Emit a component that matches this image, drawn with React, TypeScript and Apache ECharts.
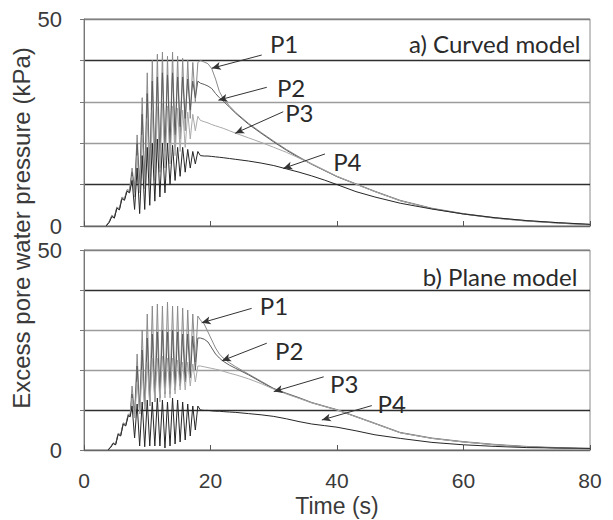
import React, { useEffect, useRef } from "react";
import * as echarts from "echarts";

// ---------- time bases ----------
const riseTimeCurved = [3.5, 4.0, 4.4, 4.8, 5.2, 5.6, 6.0, 6.4, 6.8, 7.2];
const riseTimePlane = [3.8, 4.2, 4.6, 5.0, 5.4, 5.8, 6.2, 6.6, 7.0, 7.3];
const oscTime = [7.6, 8.0, 8.4, 8.8, 9.2, 9.6, 10.0, 10.4, 10.8, 11.2, 11.6, 12.0, 12.4, 12.8, 13.2, 13.6, 14.0, 14.4, 14.8, 15.2, 15.6, 16.0, 16.4, 16.8, 17.2, 17.6, 18.0];
const decayTime = [18.4, 19, 19.6, 20.2, 20.8, 21.4, 22, 23, 24, 26, 28, 30, 32, 34, 36, 38, 40, 43, 46, 50, 55, 60, 65, 70, 75, 80];

// ---------- a) Curved model ----------
const curvedP1Rise = [0, 1.2, 2.6, 2.2, 4.6, 4.2, 7.0, 6.6, 8.8, 8.6];
const curvedP2Rise = [0, 1.0, 2.4, 2.0, 4.4, 4.0, 6.8, 6.4, 8.6, 8.2];
const curvedP3Rise = [0, 1.1, 2.5, 2.1, 4.5, 4.1, 6.9, 6.5, 8.7, 8.3];
const curvedP4Rise = [0, 0.9, 2.3, 1.9, 4.3, 3.9, 6.6, 6.2, 8.4, 8.0];

const curvedP1Osc = [14, 9, 22, 9, 31, 10, 37, 11, 40, 13, 41.5, 14, 42, 16, 41, 18, 42, 19, 41, 21, 40.5, 23, 40, 26, 39.5, 30, 39.5];
const curvedP2Osc = [13, 8, 20, 9, 27, 10, 32, 12, 35, 14, 36, 16, 37, 18, 36.5, 20, 37, 22, 36, 24, 36, 26, 35.5, 28, 35, 31, 35];
const curvedP3Osc = [12, 7, 17, 8, 22, 9, 26, 10, 28, 11, 29, 13, 30, 14, 29, 15, 29, 17, 28.5, 18, 28, 19, 27.5, 21, 27, 23, 26.5];
const curvedP4Osc = [11, 4, 14, 3, 17, 4, 19, 5, 20, 6, 21, 7, 20, 8, 20, 10, 19.5, 11, 19, 12, 19, 13, 18.5, 14, 18, 15, 18];

const curvedP1Decay = [40, 39.6, 39.2, 38, 35.5, 32.5, 30.8, 29, 27.4, 24.8, 22.6, 20.5, 18.5, 16.7, 15, 13.5, 12, 10.2, 8.4, 6.2, 4.3, 3, 2, 1.3, 0.8, 0.4];
const curvedP2Decay = [34.5, 34.2, 33.8, 33.2, 32, 31, 30.2, 28.7, 27.2, 24.6, 22.4, 20.3, 18.3, 16.5, 14.9, 13.4, 11.9, 10.1, 8.3, 6.1, 4.2, 2.9, 1.9, 1.2, 0.7, 0.3];
const curvedP3Decay = [25.5, 25.2, 24.9, 24.5, 24.2, 23.9, 23.6, 23, 22.4, 21.3, 20.2, 19, 17.8, 16.4, 15, 13.5, 12, 10.1, 8.3, 6.1, 4.2, 2.9, 1.9, 1.2, 0.7, 0.3];
const curvedP4Decay = [17, 16.9, 16.9, 16.8, 16.7, 16.6, 16.5, 16.3, 16.1, 15.7, 15.2, 14.6, 13.8, 13, 12.1, 11.1, 10, 8.3, 7, 5.5, 4.1, 2.9, 2, 1.3, 0.8, 0.4];

// ---------- b) Plane model ----------
const planeP1Rise = [0, 0.8, 1.8, 1.5, 4.2, 3.8, 6.8, 6.4, 9.0, 8.8];
const planeP2Rise = [0, 0.7, 1.7, 1.4, 4.0, 3.7, 6.6, 6.2, 8.8, 8.5];
const planeP3Rise = [0, 0.8, 1.7, 1.5, 4.1, 3.6, 6.7, 6.3, 8.9, 8.6];
const planeP4Rise = [0, 0.6, 1.6, 1.3, 3.9, 3.5, 6.5, 6.0, 8.6, 8.3];

const planeP1Osc = [16, 9, 24, 10, 30, 11, 34, 12, 36, 13, 36.5, 13, 36, 14, 37, 15, 36, 15, 36, 16, 35.5, 17, 35, 19, 34, 22, 33.5];
const planeP2Osc = [14, 8, 21, 9, 25, 10, 28, 11, 29, 12, 29.5, 13, 30, 14, 29.5, 14, 30, 15, 29.5, 16, 29, 17, 29, 18, 28.5, 20, 28];
const planeP3Osc = [13, 8, 17, 9, 20, 10, 22, 11, 23, 12, 23, 12, 23.5, 13, 23, 13, 23, 14, 22.5, 15, 22, 15, 22, 16, 21.5, 17, 21];
const planeP4Osc = [11, 3, 11.5, 1, 12, 0.8, 12.5, 1, 12, 1, 13, 1, 12.5, 0.5, 12, 1, 13, 1.5, 12.5, 2, 12, 2.5, 11.5, 3.5, 11, 5, 11];

const planeP1Decay = [32.5, 31.5, 29.5, 27.5, 25.5, 24, 23, 21.8, 20.8, 19, 17.2, 15.4, 14.2, 13.1, 11.9, 11, 10.1, 8.4, 6.7, 4.4, 3, 2.1, 1.4, 0.9, 0.6, 0.4];
const planeP2Decay = [28, 27.7, 27, 25.5, 24, 23, 22.2, 21.2, 20.4, 18.8, 17, 15.3, 14.1, 13, 11.8, 10.9, 10, 8.3, 6.6, 4.3, 2.9, 2, 1.3, 0.8, 0.5, 0.3];
const planeP3Decay = [21, 20.8, 20.6, 20.4, 20.2, 20, 19.7, 19.2, 18.8, 17.8, 16.6, 15.2, 14, 12.9, 11.8, 10.9, 10, 8.3, 6.6, 4.3, 2.9, 2, 1.3, 0.8, 0.5, 0.3];
const planeP4Decay = [10, 9.9, 9.9, 9.8, 9.7, 9.7, 9.6, 9.5, 9.4, 9.1, 8.8, 8.4, 7.8, 7.1, 6.5, 6.1, 5.7, 4.8, 3.8, 2.9, 1.9, 1.3, 0.9, 0.6, 0.5, 0.4];

const seriesNames = ["P1", "P2", "P3", "P4"];
const yTickLabels = [0, 50];
const panelTitles = ["a) Curved model", "b) Plane model"];

// ---------- styling (not data) ----------
const AXIS_FONT = "'Liberation Sans', Arial, sans-serif";
const ANNOT_FONT = "Lato, 'Open Sans', sans-serif";
const seriesColors = ["#8a8a8a", "#5c5c5c", "#a9a9a9", "#262626"];
const gridLineColors = ["#666", "#2e2e2e", "#9c9c9c", "#9c9c9c", "#2e2e2e", "#808080"];

// arrow start/end and label anchors in data coords [t, kPa]
const curvedArrows = [
  [[28.1, 41.3], [20.2, 38.1]],
  [[28.9, 33.5], [21.25, 30.4]],
  [[31.5, 27.6], [23.9, 22.4]],
  [[38.1, 17.4], [31.5, 13.9]],
];
const planeArrows = [
  [[26.5, 35.4], [18.6, 31.8]],
  [[28.9, 26.7], [21.8, 22.3]],
  [[37.9, 18.3], [30.0, 14.6]],
  [[45.5, 11.1], [37.6, 7.5]],
];
const curvedLabelPos = [[29.4, 44.2], [30.5, 33.5], [31.8, 27.3], [39.4, 15.5]];
const planeLabelPos = [[27.8, 36.2], [30.2, 25.0], [38.9, 16.7], [46.4, 11.7]];
const titlePos = [[78.5, 44.2], [78.0, 43.3]];

function join(riseT: number[], riseV: number[], osc: number[], dec: number[]) {
  const out: number[][] = [];
  riseT.forEach((t, i) => out.push([t, riseV[i]]));
  oscTime.forEach((t, i) => out.push([t, osc[i]]));
  decayTime.forEach((t, i) => out.push([t, dec[i]]));
  return out;
}

export default function App() {
  const ref = useRef<HTMLDivElement>(null);
  useEffect(() => {
    if (!ref.current) return;
    const chart = echarts.init(ref.current, undefined, { renderer: "svg" });

    const curvedData = [
      join(riseTimeCurved, curvedP1Rise, curvedP1Osc, curvedP1Decay),
      join(riseTimeCurved, curvedP2Rise, curvedP2Osc, curvedP2Decay),
      join(riseTimeCurved, curvedP3Rise, curvedP3Osc, curvedP3Decay),
      join(riseTimeCurved, curvedP4Rise, curvedP4Osc, curvedP4Decay),
    ];
    const planeData = [
      join(riseTimePlane, planeP1Rise, planeP1Osc, planeP1Decay),
      join(riseTimePlane, planeP2Rise, planeP2Osc, planeP2Decay),
      join(riseTimePlane, planeP3Rise, planeP3Osc, planeP3Decay),
      join(riseTimePlane, planeP4Rise, planeP4Osc, planeP4Decay),
    ];

    const mkArrows = (arr: number[][][]) => ({
      silent: true,
      symbol: ["none", "arrow"],
      symbolSize: [6, 9],
      label: { show: false },
      lineStyle: { color: "#333", width: 1, type: "solid" },
      emphasis: { disabled: true },
      data: arr.map((a) => [{ coord: a[0] }, { coord: a[1] }]),
    });

    const series: any[] = [];
    [curvedData, planeData].forEach((panel, gi) => {
      panel.forEach((d, si) => {
        series.push({
          type: "line",
          name: `${panelTitles[gi]} ${seriesNames[si]}`,
          xAxisIndex: gi,
          yAxisIndex: gi,
          data: d,
          showSymbol: false,
          symbol: "none",
          lineStyle: { color: seriesColors[si], width: 1 },
          z: 2 + si,
          markLine: si === 3 ? mkArrows(gi === 0 ? curvedArrows : planeArrows) : undefined,
        });
      });
    });

    const option: any = {
      animation: false,
      backgroundColor: "#fff",
      grid: [
        { left: 84, width: 506, top: 19, height: 207, show: true, borderColor: "#8a8a8a", borderWidth: 1 },
        { left: 84, width: 506, top: 250, height: 200, show: true, borderColor: "#8a8a8a", borderWidth: 1 },
      ],
      xAxis: [0, 1].map((i) => ({
        type: "value",
        gridIndex: i,
        min: 0,
        max: 80,
        interval: 20,
        axisLine: { show: true, onZero: false, lineStyle: { color: "#666", width: 1.2 } },
        axisTick: { show: true, inside: true, length: 5, lineStyle: { color: "#555" } },
        axisLabel: { show: i === 1, fontSize: 21, fontFamily: AXIS_FONT, color: "#3a3a3a", margin: 20 },
        splitLine: { show: false },
      })),
      yAxis: [0, 1].map((i) => ({
        type: "value",
        gridIndex: i,
        min: 0,
        max: 50,
        interval: 10,
        axisLine: { show: true, lineStyle: { color: "#777" } },
        axisTick: { show: true, inside: false, length: 4, lineStyle: { color: "#777" } },
        axisLabel: {
          fontSize: 22,
          fontFamily: AXIS_FONT,
          color: "#3a3a3a",
          margin: 22,
          formatter: (v: number) => (yTickLabels.includes(v) ? String(v) : ""),
        },
        splitLine: { show: true, lineStyle: { color: gridLineColors, width: 1.3 } },
      })),
      series,
    };
    chart.setOption(option);

    const graphics: any[] = [];
    const addText = (gi: number, pos: number[], text: string, align: string) => {
      const p = chart.convertToPixel({ gridIndex: gi }, pos) as number[];
      graphics.push({
        type: "text",
        x: p[0],
        y: p[1],
        z: 10,
        style: { text, fontSize: 24, fontFamily: ANNOT_FONT, fill: "#2a2a2a", align, verticalAlign: "middle" },
      });
    };
    curvedLabelPos.forEach((p, i) => addText(0, p, seriesNames[i], "left"));
    planeLabelPos.forEach((p, i) => addText(1, p, seriesNames[i], "left"));
    titlePos.forEach((p, i) => addText(i, p, panelTitles[i], "right"));

    graphics.push({
      type: "text",
      x: 21,
      y: 228,
      rotation: Math.PI / 2,
      style: {
        text: "Excess pore water pressure (kPa)",
        fontSize: 24,
        fontFamily: AXIS_FONT,
        fill: "#3a3a3a",
        align: "center",
        verticalAlign: "middle",
      },
    });
    graphics.push({
      type: "text",
      x: 337,
      y: 506,
      style: { text: "Time (s)", fontSize: 23, fontFamily: AXIS_FONT, fill: "#3a3a3a", align: "center", verticalAlign: "middle" },
    });
    chart.setOption({ graphic: graphics });

    return () => chart.dispose();
  }, []);

  return <div ref={ref} style={{ position: "absolute", left: 0, top: 0, width: 613, height: 520 }} />;
}
